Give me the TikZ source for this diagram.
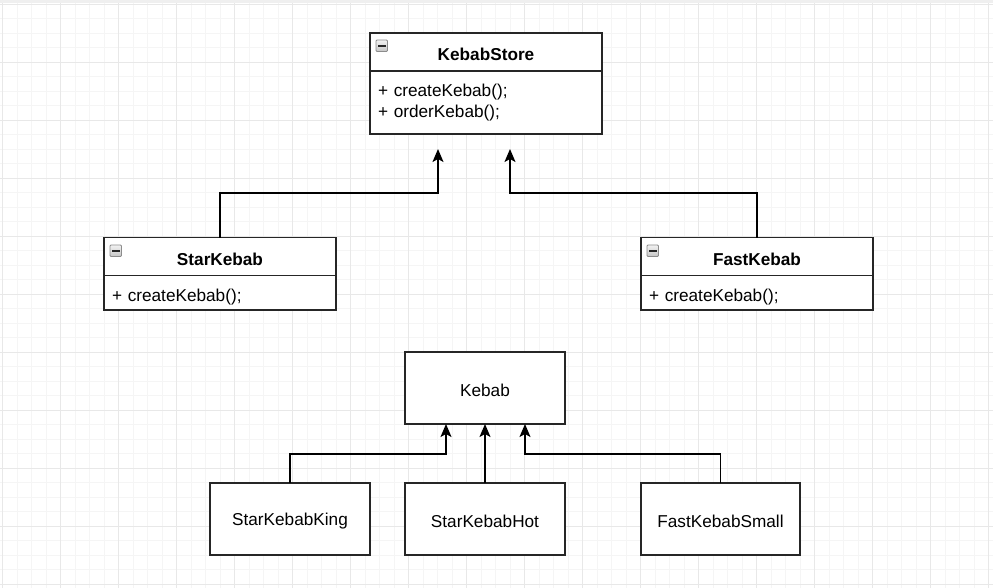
\documentclass[tikz,border=0pt]{standalone}
\usepackage{fontspec}
\setmainfont{Liberation Sans}
\usetikzlibrary{arrows.meta,calc}
\definecolor{gridminor}{HTML}{F5F5F5}
\definecolor{gridmajor}{HTML}{E8E8E8}
\definecolor{boxline}{HTML}{262626}
\definecolor{topband}{HTML}{EFEFEF}
\newcommand{\lowerby}[2]{\raisebox{-#1}[\height][\depth]{#2}}
\tikzset{
  boxstyle/.style={draw=boxline, line width=1.5pt, fill=white, inner sep=0pt, outer sep=0pt, anchor=north west, font=\fontsize{17.2}{20.5}\selectfont},
  hdr/.style={boxstyle, font=\fontsize{17.2}{20.5}\selectfont\bfseries},
  body/.style={boxstyle, align=left, text width=#1, inner xsep=8pt},
  arr/.style={line width=1.5pt, -{Stealth[length=13pt,width=11pt,inset=3pt]}},
  icon/.style={draw=gray!90, top color=gray!10, bottom color=gray!45, line width=0.8pt, rounded corners=1pt, minimum size=11.5pt, inner sep=0pt, outer sep=0pt, anchor=north west},
  minus/.style={line width=1.6pt, black!85},
}
\begin{document}
\begin{tikzpicture}[x=1pt,y=-1pt]
\useasboundingbox (0,0) rectangle (993,588);
\fill[white] (0,0) rectangle (993,588);
% grid
\foreach \i in {0,...,68} {
  \draw[gridminor, line width=0.7pt] ({2.5+14.5*\i},0) -- ({2.5+14.5*\i},588);
}
\foreach \i in {0,...,40} {
  \draw[gridminor, line width=0.7pt] (0,{4+14.5*\i}) -- (993,{4+14.5*\i});
}
\foreach \i in {0,...,17} {
  \draw[gridmajor, line width=0.9pt] ({2.5+58*\i},0) -- ({2.5+58*\i},588);
}
\foreach \i in {0,...,10} {
  \draw[gridmajor, line width=0.9pt] (0,{4+58*\i}) -- (993,{4+58*\i});
}
\fill[topband] (0,0) rectangle (993,3);

% KebabStore
\node[hdr, minimum width=232pt, minimum height=38pt] (ksh) at (370,33) {\lowerby{2pt}{KebabStore}};
\node[body=216pt, minimum height=63pt, anchor=north west] (ksb) at (ksh.south west) {+ createKebab();\\+ orderKebab();\\[4pt]};
\node[icon] (ksi) at (376,40) {};
\draw[minus] ($(ksi.west)+(2pt,0)$) -- ($(ksi.east)+(-2pt,0)$);

% StarKebab
\node[hdr, minimum width=232pt, minimum height=38pt] (skh) at (104,237.5) {\lowerby{2.5pt}{StarKebab}};
\node[body=216pt, minimum height=34.5pt, anchor=north west] (skb) at (skh.south west) {\lowerby{4pt}{+ createKebab();}};
\node[icon] (ski) at (110,245) {};
\draw[minus] ($(ski.west)+(2pt,0)$) -- ($(ski.east)+(-2pt,0)$);

% FastKebab
\node[hdr, minimum width=232pt, minimum height=38pt] (fkh) at (641,237.5) {\lowerby{2.5pt}{FastKebab}};
\node[body=216pt, minimum height=34.5pt, anchor=north west] (fkb) at (fkh.south west) {\lowerby{4pt}{+ createKebab();}};
\node[icon] (fki) at (647,245) {};
\draw[minus] ($(fki.west)+(2pt,0)$) -- ($(fki.east)+(-2pt,0)$);

% Kebab & subclasses
\node[boxstyle, minimum width=160pt, minimum height=72pt] (kb) at (405,352) {\lowerby{2pt}{Kebab}};
\node[boxstyle, minimum width=160pt, minimum height=72pt] (skk) at (210,483) {\lowerby{2pt}{StarKebabKing}};
\node[boxstyle, minimum width=160pt, minimum height=72pt] (skh2) at (405,483) {\lowerby{2pt}{StarKebabHot}};
\node[boxstyle, minimum width=159pt, minimum height=72pt] (fks) at (641,483) {\lowerby{2pt}{FastKebabSmall}};

% arrows to KebabStore
\coordinate (t1) at (438,149);
\coordinate (b1) at (438,193);
\coordinate (t2) at (510,149);
\coordinate (b2) at (510,193);
\draw[arr] (skh.north) |- (b1) -- (t1);
\draw[arr] (fkh.north) |- (b2) -- (t2);

% arrows to Kebab
\coordinate (k1) at (446,424);
\coordinate (j1) at (446,454);
\coordinate (k3) at (525,424);
\coordinate (j3) at (525,454);
\draw[arr] (skk.north) |- (j1) -- (k1);
\draw[arr] (skh2.north) -- (kb.south);
\draw[arr] (fks.north) |- (j3) -- (k3);
\end{tikzpicture}
\end{document}
